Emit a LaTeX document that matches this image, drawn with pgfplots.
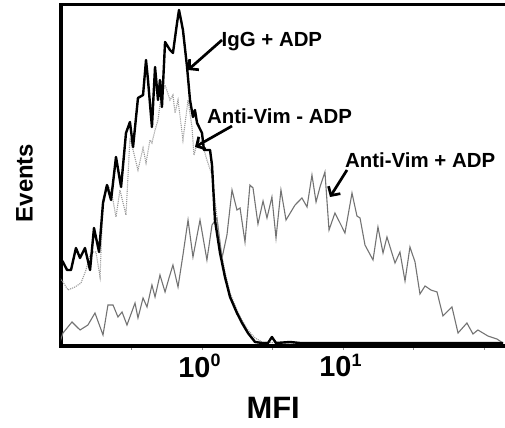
\documentclass[border=0pt]{standalone}
\usepackage{fontspec}
\setmainfont{Liberation Sans}
\usepackage{pgfplots}
\pgfplotsset{compat=1.18}
\usetikzlibrary{arrows.meta}
\begin{document}
\begin{tikzpicture}
\useasboundingbox (0,0) rectangle (505bp,428bp);
\begin{axis}[
  at={(61bp,82bp)}, anchor=south west,
  scale only axis, width=442bp, height=341bp,
  xmin=-1, xmax=2.135, ymin=-1, ymax=340,
  axis lines*=left,
  axis line style={line width=3.5bp, black, line cap=rect},
  ytick=\empty,
  xtick={0,1},
  xticklabels={10\raisebox{0.36em}{\fontsize{18}{18}\selectfont 0},10\raisebox{0.36em}{\fontsize{18}{18}\selectfont 1}},
  minor xtick={-0.5,0.5,1.5,2},
  tick align=outside,
  major tick length=4bp, minor tick length=4bp,
  tick style={black!45, line width=0.6bp},
  xticklabel style={font=\fontsize{29}{29}\selectfont\bfseries, inner sep=0pt, anchor=north, yshift=-4bp, xshift=-2.5bp},
  xlabel={MFI},
  xlabel style={at={(rel axis cs:0.48,-0.182)}, anchor=center, font=\fontsize{31}{31}\selectfont\bfseries, inner sep=0pt},
  ylabel={Events},
  ylabel style={at={(rel axis cs:-0.0826,0.478)}, anchor=center, font=\fontsize{24}{24}\selectfont\bfseries, inner sep=0pt},
]
% Anti-Vim + ADP (gray solid)
\addplot[color=black!55, line width=1.1bp] coordinates {
(-1.007,3) (-0.986,12) (-0.922,23) (-0.865,15) (-0.809,20) (-0.759,32) (-0.702,10)
(-0.667,40) (-0.631,40) (-0.596,28) (-0.567,33) (-0.532,20) (-0.475,42) (-0.454,27)
(-0.418,47) (-0.390,38) (-0.355,60) (-0.333,48) (-0.298,70) (-0.262,53) (-0.234,67)
(-0.206,80) (-0.170,58) (-0.135,90) (-0.099,125) (-0.064,88) (-0.014,125) (0.035,85)
(0.071,120) (0.106,127) (0.142,87) (0.177,110) (0.213,155) (0.248,135) (0.270,137)
(0.305,103) (0.340,160) (0.362,157) (0.397,121) (0.433,144) (0.461,127) (0.496,148)
(0.525,107) (0.560,155) (0.596,125) (0.660,140) (0.709,147) (0.745,138) (0.780,170)
(0.809,143) (0.837,158) (0.872,173) (0.901,115) (0.943,132) (0.986,120) (1.014,112)
(1.064,152) (1.099,129) (1.121,127) (1.156,100) (1.213,85) (1.248,118) (1.284,92)
(1.312,108) (1.369,82) (1.404,93) (1.440,64) (1.475,98) (1.511,83) (1.546,51)
(1.582,59) (1.624,55) (1.667,53) (1.709,29) (1.773,38) (1.816,12) (1.879,22)
(1.922,11) (1.957,15) (2.028,9) (2.092,6) (2.135,2)
};
% Anti-Vim - ADP (light gray dotted)
\addplot[color=black!40, line width=1.1bp, densely dotted] coordinates {
(-1.007,67) (-0.986,63) (-0.950,55) (-0.901,58) (-0.858,62) (-0.823,75) (-0.794,90)
(-0.773,93) (-0.752,93) (-0.723,68) (-0.702,145) (-0.667,160) (-0.638,150) (-0.610,128)
(-0.582,155) (-0.539,130) (-0.511,207) (-0.489,195) (-0.454,175) (-0.418,197) (-0.397,182)
(-0.369,205) (-0.355,202) (-0.333,215) (-0.312,225) (-0.291,248) (-0.262,260) (-0.227,245)
(-0.206,250) (-0.191,232) (-0.170,245) (-0.135,205) (-0.099,245) (-0.071,218) (-0.057,190)
(-0.028,205) (0,202) (0.035,185) (0.071,170) (0.092,145) (0.128,100) (0.163,73)
(0.199,52) (0.248,35) (0.284,25) (0.326,15) (0.376,7) (0.426,3) (0.553,2) (2.135,2)
};
% IgG + ADP (black thick)
\addplot[color=black, line width=2.4bp, line join=round] coordinates {
(-1.007,87) (-0.986,83) (-0.957,75) (-0.929,75) (-0.894,97) (-0.865,87) (-0.830,97)
(-0.794,75) (-0.766,117) (-0.730,93) (-0.702,142) (-0.674,160) (-0.645,145) (-0.610,188)
(-0.574,158) (-0.539,212) (-0.511,223) (-0.489,198) (-0.454,247) (-0.418,250) (-0.397,285)
(-0.383,265) (-0.355,218) (-0.333,278) (-0.312,245) (-0.298,265) (-0.284,238) (-0.262,303)
(-0.227,295) (-0.206,292) (-0.177,322) (-0.163,335) (-0.135,315) (-0.106,278) (-0.085,245)
(-0.064,228) (-0.050,235) (-0.035,222) (0,212) (0.014,195) (0.057,195) (0.071,180)
(0.092,125) (0.128,92) (0.163,68) (0.199,48) (0.248,32) (0.284,22) (0.326,12)
(0.376,3) (0.426,2) (0.468,2) (0.496,8) (0.525,2) (0.624,3) (0.695,2) (0.979,2) (2.135,2)
};
\end{axis}
\begin{scope}[x=1bp, y=-1bp, yshift=428bp]
\draw[line width=3bp, line cap=rect] (61,5) -- (503,5);
\node[anchor=base west, inner sep=0pt, font=\fontsize{20.5}{20.5}\selectfont\bfseries] at (221.5,47) {IgG + ADP};
\node[anchor=base west, inner sep=0pt, font=\fontsize{20.5}{20.5}\selectfont\bfseries] at (207,124) {Anti-Vim - ADP};
\node[anchor=base west, inner sep=0pt, font=\fontsize{20.5}{20.5}\selectfont\bfseries] at (345,168) {Anti-Vim + ADP};
\draw[line width=2.7bp, -{Straight Barb[length=6.5bp, width=14bp]}] (222,40) -- (188,70);
\draw[line width=2.7bp, -{Straight Barb[length=6.5bp, width=14bp]}] (232,126) -- (195,147);
\draw[line width=2.7bp, -{Straight Barb[length=6.5bp, width=14bp]}] (347,170) -- (330,197);
\end{scope}
\end{tikzpicture}
\end{document}
